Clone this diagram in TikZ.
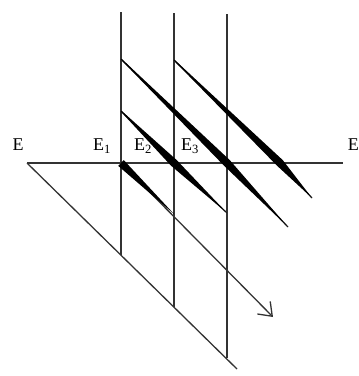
\documentclass[tikz,border=0pt]{standalone}
\usepackage{fontspec}
\setmainfont{Liberation Serif}
\usetikzlibrary{
  calc,
  arrows.meta
}

\tikzset{
  wire/.style={line width=1.3pt, black!80},
  lbl/.style={font=\fontsize{18}{20}\selectfont, inner sep=0pt}
}

% band: start, crossing, tip
\newcommand{\band}[3]{%
  \fill ($(#1)!0.5pt!90:(#2)$) -- ($(#2)!4pt!-90:(#1)$) -- (#3)
    -- ($(#2)!4pt!90:(#1)$) -- ($(#1)!0.5pt!-90:(#2)$) -- cycle;}

\begin{document}
\begin{tikzpicture}[x=1pt,y=-1pt]
  \useasboundingbox (0,0) rectangle (359,376);

  % interface
  \coordinate (H0) at (27,163);
  \coordinate (H1) at (343,163);
  \coordinate (D0) at (237,369);

  % verticals
  \coordinate (V1t) at (121,12);
  \coordinate (V1b) at (121,255);
  \coordinate (V2t) at (174,13);
  \coordinate (V2b) at (174,306.5);
  \coordinate (V3t) at (227,14);
  \coordinate (V3b) at (227,358);

  % rays
  \coordinate (S1) at (121,59);
  \coordinate (C1) at (227,163);
  \coordinate (T1) at (288,227);
  \coordinate (S2) at (174,60);
  \coordinate (C2) at (280,163);
  \coordinate (T2) at (312,198);
  \coordinate (S3) at (121,111);
  \coordinate (C3) at (174,163);
  \coordinate (T3) at (227,213);
  \coordinate (C4) at (121,163);
  \coordinate (M4) at (174,214);
  \coordinate (T4) at (273,317);

  \draw[wire] (H0) -- (H1);
  \draw[wire] (H0) -- (D0);
  \draw[wire] (V1t) -- (V1b);
  \draw[wire] (V2t) -- (V2b);
  \draw[wire] (V3t) -- (V3b);

  \draw[wire] (S1) -- (C1) -- (T1);
  \draw[wire] (S2) -- (C2) -- (T2);
  \draw[wire] (S3) -- (C3) -- (T3);
  \draw[wire,-{Straight Barb[length=12pt,width=18pt]}] (C4) -- (T4);

  \band{S1}{C1}{T1}
  \band{S2}{C2}{T2}
  \band{S3}{C3}{T3}
  \fill ($(C4)!4pt!90:(M4)$) -- (M4) -- ($(C4)!4pt!-90:(M4)$) -- cycle;

  \node[lbl] (eL) at (18,145) {E};
  \node[lbl] (e1) at (102,146) {E\textsubscript{1}};
  \node[lbl] (e2) at (143,146) {E\textsubscript{2}};
  \node[lbl] (e3) at (190,146) {E\textsubscript{3}};
  \node[lbl,anchor=east] (eR) at (359,145) {E};
\end{tikzpicture}
\end{document}
